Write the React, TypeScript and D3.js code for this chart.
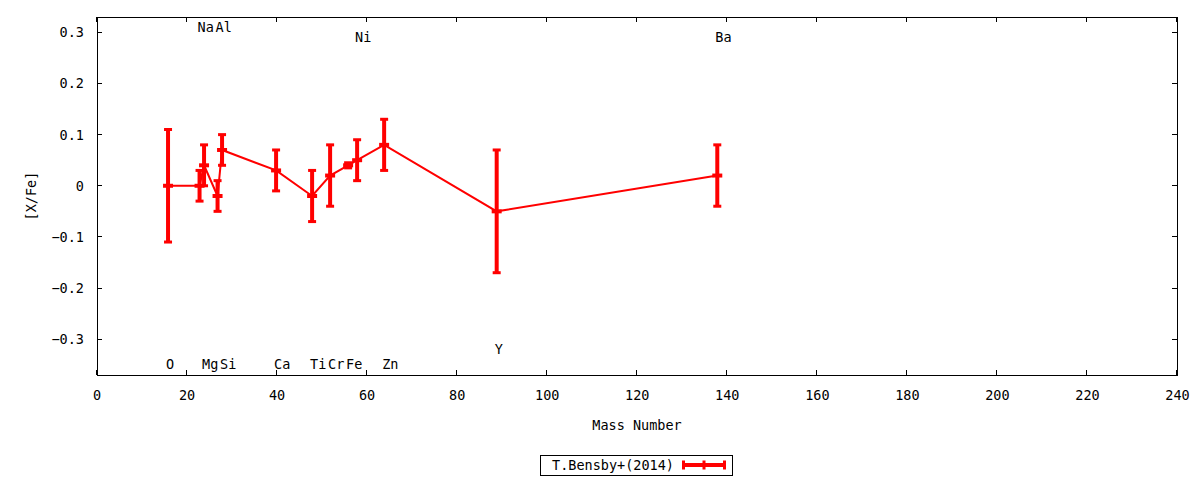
import React from "react";
import * as d3 from "d3";

const elements = ["O", "Na", "Mg", "Al", "Si", "Ca", "Ti", "Cr", "Fe", "Ni", "Zn", "Y", "Ba"];
const massNumbers = [16, 23, 24, 27, 28, 40, 48, 52, 56, 58, 64, 89, 138];
const xFe = [0, 0, 0.04, -0.02, 0.07, 0.03, -0.02, 0.02, 0.04, 0.05, 0.08, -0.05, 0.02];
const xFeErr = [0.11, 0.03, 0.04, 0.03, 0.03, 0.04, 0.05, 0.06, 0.005, 0.04, 0.05, 0.12, 0.06];
// label vertical placement (data units)
const labelY = [-0.348, 0.31, -0.348, 0.31, -0.348, -0.348, -0.348, -0.348, -0.348, 0.29, -0.348, -0.32, 0.29];

const xTicks = [0, 20, 40, 60, 80, 100, 120, 140, 160, 180, 200, 220, 240];
const yTicks = [-0.3, -0.2, -0.1, 0, 0.1, 0.2, 0.3];
const seriesName = "T.Bensby+(2014)";

const W = 1200;
const H = 480;
const M = { left: 97, right: 1177, top: 17, bottom: 375 };
const RED = "#ff0000";
const FONT = "'DejaVu Sans Mono', monospace";

export default function App() {
  const x = d3.scaleLinear().domain([0, 240]).range([M.left - 1, M.right - 0.5]);
  const y = d3.scaleLinear().domain([-0.37, 0.33]).range([M.bottom, M.top]);
  const pts = massNumbers.map((m, i) => ({ m, v: xFe[i], e: xFeErr[i], el: elements[i], ly: labelY[i] }));
  const line = d3
    .line<{ m: number; v: number }>()
    .x((d) => x(d.m))
    .y((d) => y(d.v));
  const tl = 5;
  const capW = 8;
  const fs = 13.5;

  return (
    <svg
      width={W}
      height={H}
      style={{ position: "fixed", left: 0, top: 0, display: "block", background: "#fff" }}
      fontFamily={FONT}
      fontSize={fs}
    >
      <rect x={0} y={0} width={W} height={H} fill="#fff" />
      {/* ticks */}
      <g stroke="#000" strokeWidth={1} shapeRendering="crispEdges">
        {xTicks.map((t) => (
          <g key={"xt" + t}>
            <line x1={x(t)} x2={x(t)} y1={M.bottom} y2={M.bottom - tl} />
            <line x1={x(t)} x2={x(t)} y1={M.top} y2={M.top + tl} />
          </g>
        ))}
        {yTicks.map((t) => (
          <g key={"yt" + t}>
            <line x1={M.left} x2={M.left + tl} y1={y(t)} y2={y(t)} />
            <line x1={M.right} x2={M.right - tl} y1={y(t)} y2={y(t)} />
          </g>
        ))}
        <rect x={M.left} y={M.top} width={M.right - M.left} height={M.bottom - M.top} fill="none" />
      </g>
      {/* tick labels */}
      <g fill="#000">
        {xTicks.map((t) => (
          <text key={"xl" + t} x={x(t) + 1} y={400} textAnchor="middle">
            {t}
          </text>
        ))}
        {yTicks.map((t) => (
          <text key={"yl" + t} x={84} y={y(t) + 5} textAnchor="end">
            {t === 0 ? "0" : d3.format(".1f")(t)}
          </text>
        ))}
        <text x={(M.left + M.right) / 2} y={430} textAnchor="middle">
          Mass Number
        </text>
        <text transform={`translate(36,196) rotate(-90)`} textAnchor="middle">
          [X/Fe]
        </text>
      </g>
      {/* element labels */}
      <g fill="#000">
        {pts.map((p) => (
          <text key={"el" + p.el} x={x(p.m) - 2} y={y(p.ly) + 5} textAnchor="start">
            {p.el}
          </text>
        ))}
      </g>
      {/* data */}
      <path d={line(pts) || ""} fill="none" stroke={RED} strokeWidth={2} />
      <g stroke={RED}>
        {pts.map((p) => (
          <g key={"eb" + p.el}>
            <line x1={x(p.m)} x2={x(p.m)} y1={y(p.v - p.e)} y2={y(p.v + p.e)} strokeWidth={4} />
            <line x1={x(p.m) - capW / 2} x2={x(p.m) + capW / 2} y1={y(p.v + p.e)} y2={y(p.v + p.e)} strokeWidth={3} />
            <line x1={x(p.m) - capW / 2} x2={x(p.m) + capW / 2} y1={y(p.v - p.e)} y2={y(p.v - p.e)} strokeWidth={3} />
            <line x1={x(p.m) - 5} x2={x(p.m) + 5} y1={y(p.v)} y2={y(p.v)} strokeWidth={4} />
          </g>
        ))}
      </g>
      {/* legend */}
      <g>
        <rect x={540.5} y={455.5} width={192} height={20} fill="none" stroke="#000" strokeWidth={1} shapeRendering="crispEdges" />
        <text x={674} y={470} textAnchor="end" fill="#000">
          {seriesName}
        </text>
        <g stroke={RED}>
          <line x1={682} x2={726} y1={465} y2={465} strokeWidth={4} />
          <line x1={683.5} x2={683.5} y1={460.5} y2={469.5} strokeWidth={3} />
          <line x1={724.5} x2={724.5} y1={460.5} y2={469.5} strokeWidth={3} />
          <line x1={704} x2={704} y1={460.5} y2={469.5} strokeWidth={3} />
        </g>
      </g>
    </svg>
  );
}
